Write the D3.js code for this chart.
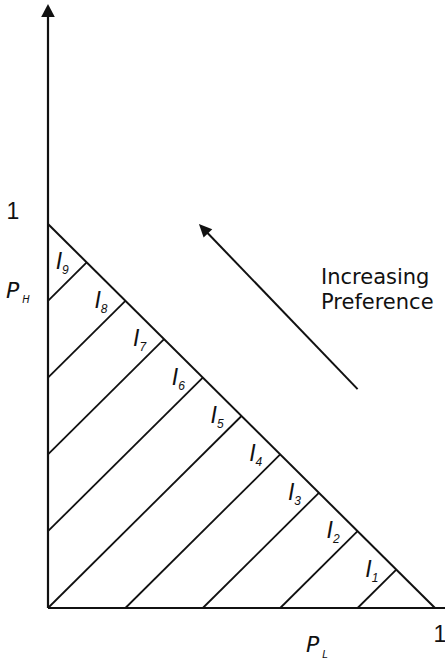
<!DOCTYPE html>
<html><head><meta charset="utf-8">
<script src="https://cdn.jsdelivr.net/npm/d3@7"></script>
<style>html,body{margin:0;padding:0;background:#fff}</style>
</head><body>
<svg id="chart" width="445" height="662"></svg>
<script>
// Indifference lines pH - pL = c, each running from an axis up to the budget line pL + pH = 1
const offsets = [-0.8, -0.6, -0.4, -0.2, 0, 0.2, 0.4, 0.6, 0.8];
const curveIndex = ["1", "2", "3", "4", "5", "6", "7", "8", "9"];
const tickValues = [1];
const axisExtentX = 1.026;
const axisExtentY = 1.573;
const prefArrowFrom = [0.80, 0.57];
const prefArrowTo = [0.39, 1.0];
const prefText = ["Increasing", "Preference"];

const svg = d3.select("#chart");
const x = d3.scaleLinear().domain([0, 1]).range([48, 435]);
const y = d3.scaleLinear().domain([0, 1]).range([608, 224]);
const ink = "#111";
const font = "'DejaVu Sans', sans-serif";
const thin = "'Liberation Sans', sans-serif";

function arrowHead(tip, from, len, half) {
  const dx = tip[0] - from[0], dy = tip[1] - from[1];
  const d = Math.hypot(dx, dy), ux = dx / d, uy = dy / d;
  const bx = tip[0] - ux * len, by = tip[1] - uy * len;
  return [[tip[0], tip[1]], [bx - uy * half, by + ux * half], [bx + uy * half, by - ux * half]];
}

// axes
svg.append("line").attr("x1", x(0)).attr("y1", y(0)).attr("x2", x(axisExtentX)).attr("y2", y(0))
  .attr("stroke", ink).attr("stroke-width", 2.2);
const yTip = [x(0), y(axisExtentY)];
svg.append("line").attr("x1", x(0)).attr("y1", y(0)).attr("x2", x(0)).attr("y2", yTip[1] + 10)
  .attr("stroke", ink).attr("stroke-width", 2.2);
svg.append("polygon").attr("points", arrowHead(yTip, [x(0), y(0)], 13, 6.8).join(" ")).attr("fill", ink);

// budget line
svg.append("line").attr("x1", x(0)).attr("y1", y(1)).attr("x2", x(1)).attr("y2", y(0))
  .attr("stroke", ink).attr("stroke-width", 2);

// hatch lines
const segs = offsets.map((c, i) => {
  const start = c >= 0 ? [0, c] : [-c, 0];
  const end = [(1 - c) / 2, (1 + c) / 2];
  return { start, end, idx: curveIndex[i] };
});
svg.selectAll("line.ic").data(segs).join("line").attr("class", "ic")
  .attr("x1", d => x(d.start[0])).attr("y1", d => y(d.start[1]))
  .attr("x2", d => x(d.end[0])).attr("y2", d => y(d.end[1]))
  .attr("stroke", ink).attr("stroke-width", 1.8);

// curve labels I with subscripts
const lab = svg.selectAll("text.il").data(segs).join("text").attr("class", "il")
  .attr("x", d => x(d.end[0]) - 31).attr("y", d => y(d.end[1]) + 7)
  .attr("font-family", thin).attr("font-style", "italic").attr("font-size", 23).attr("fill", ink);
lab.append("tspan").text("I");
lab.append("tspan").attr("dx", 0).attr("dy", 5).attr("font-size", 12).text(d => d.idx);

// tick labels "1"
svg.selectAll("text.tx").data(tickValues).join("text").attr("class", "tx")
  .attr("x", d => x(d) + 5).attr("y", 642).attr("text-anchor", "middle")
  .attr("font-family", thin).attr("font-size", 23).attr("fill", ink).text(d => d);
svg.selectAll("text.ty").data(tickValues).join("text").attr("class", "ty")
  .attr("x", 13).attr("y", d => y(d) - 5).attr("text-anchor", "middle")
  .attr("font-family", thin).attr("font-size", 23).attr("fill", ink).text(d => d);

// axis names
const pl = svg.append("text").attr("x", 306).attr("y", 652)
  .attr("font-family", font).attr("font-style", "italic").attr("font-size", 22).attr("fill", ink);
pl.append("tspan").text("P");
pl.append("tspan").attr("dx", 3).attr("dy", 6).attr("font-size", 10).text("L");
const ph = svg.append("text").attr("x", 6).attr("y", 298)
  .attr("font-family", font).attr("font-style", "italic").attr("font-size", 22).attr("fill", ink);
ph.append("tspan").text("P");
ph.append("tspan").attr("dx", 3).attr("dy", 5).attr("font-size", 10).text("H");

// direction of increasing preference
const aFrom = [x(prefArrowFrom[0]), y(prefArrowFrom[1])];
const aTo = [x(prefArrowTo[0]), y(prefArrowTo[1])];
const ang = Math.atan2(aTo[1] - aFrom[1], aTo[0] - aFrom[0]);
svg.append("line").attr("x1", aFrom[0]).attr("y1", aFrom[1])
  .attr("x2", aTo[0] - Math.cos(ang) * 9).attr("y2", aTo[1] - Math.sin(ang) * 9)
  .attr("stroke", ink).attr("stroke-width", 2);
svg.append("polygon").attr("points", arrowHead(aTo, aFrom, 13, 6).join(" ")).attr("fill", ink);

svg.append("text").attr("x", 321).attr("y", 284)
  .attr("font-family", font).attr("font-size", 21).attr("fill", ink)
  .selectAll("tspan").data(prefText).join("tspan")
  .attr("x", 321).attr("dy", (d, i) => i ? 25 : 0).text(d => d);
</script>
</body></html>
